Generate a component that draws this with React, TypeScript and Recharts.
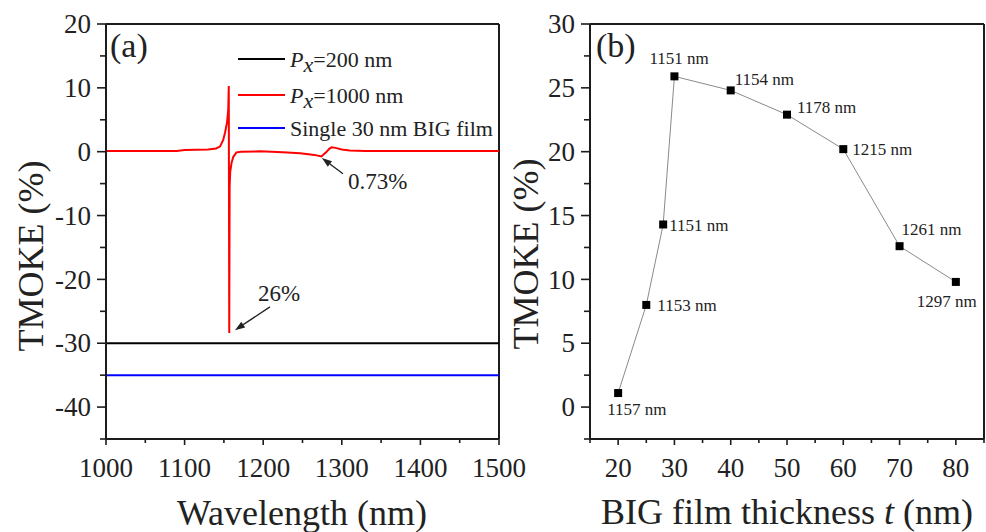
import { LineChart, Line, XAxis, YAxis, ReferenceLine, LabelList, Customized } from 'recharts'

// (a) TMOKE spectrum, Px = 1000 nm
const wavelength = [
    1000, 1050, 1090, 1100, 1130, 1140, 1145, 1149, 1151.5, 1154, 1155.5, 1156.2, 1156.8, 1157.3, 1158,
    1159.7, 1162, 1166, 1172, 1196, 1225, 1247, 1265, 1274, 1280, 1284, 1287, 1292, 1300, 1310, 1330,
    1400, 1500,
]
const tmokePx1000 = [
    0.1, 0.1, 0.12, 0.25, 0.35, 0.5, 0.8, 1.8, 3.0, 4.6, 6.5, 10.3, -28.4, -5.5, -3.2,
    -1.75, -0.8, -0.1, 0.0, 0.05, -0.1, -0.25, -0.5, -0.75, -0.1, 0.45, 0.7, 0.6, 0.35, 0.2, 0.12,
    0.1, 0.1,
]
const flatWavelength = [1000, 1500]
const tmokePx200 = [-30, -30]
const tmokeSingle = [-35, -35]

const waveTicks = [1000, 1050, 1100, 1150, 1200, 1250, 1300, 1350, 1400, 1450, 1500]
const waveMajor = [1000, 1100, 1200, 1300, 1400, 1500]
const tmokeTicksA = [-45, -40, -35, -30, -25, -20, -15, -10, -5, 0, 5, 10, 15, 20]
const tmokeMajorA = [-40, -30, -20, -10, 0, 10, 20]

// (b) peak TMOKE vs BIG thickness
const thickness = [20, 25, 28, 30, 40, 50, 60, 70, 80]
const tmokePeak = [1.1, 8.0, 14.3, 25.9, 24.8, 22.9, 20.2, 12.6, 9.8]
const resonance = [1157, 1153, 1151, 1151, 1154, 1178, 1215, 1261, 1297]

const thickTicks = [15, 20, 25, 30, 35, 40, 45, 50, 55, 60, 65, 70, 75, 80, 85]
const thickMajor = [20, 30, 40, 50, 60, 70, 80]
const tmokeTicksB = [-2.5, 0, 2.5, 5, 7.5, 10, 12.5, 15, 17.5, 20, 22.5, 25, 27.5, 30]
const tmokeMajorB = [0, 5, 10, 15, 20, 25, 30]

const arrowNotes = [
    { text: '26%', tail: [1208.6, -24.3], tip: [1164, -27.95] },
    { text: '0.73%', tail: [1301.5, -3.46], tip: [1274.7, -0.98] },
]
const noteOffsets = [[-12, -6], [5, 15]]

// label offset from each marker: [dx, dy to baseline]
const labelOffsets = [[-11, 22], [11, 6], [6, 7], [-25, -12], [4, -5], [10, -2], [9, 6], [2, -11], [-39, 25]]

const SERIF = "'Liberation Serif', 'Times New Roman', serif"
const AXIS = '#1c1c1c'
const serif = (size: number, extra: any = {}) => ({ fontFamily: SERIF, fontSize: size, ...extra })

const px1000Data = wavelength.map((w, i) => ({ w, v: tmokePx1000[i] }))
const px200Data = flatWavelength.map((w, i) => ({ w, v: tmokePx200[i] }))
const singleData = flatWavelength.map((w, i) => ({ w, v: tmokeSingle[i] }))
const thicknessData = thickness.map((t, i) => ({ t, v: tmokePeak[i], res: `${resonance[i]} nm` }))

function BottomTick(props: any) {
    const { x, y, payload, majors } = props
    const major = majors.includes(payload.value)
    return (
        <g>
            <line x1={x} x2={x} y1={y} y2={y + (major ? 6 : 4)} stroke={AXIS} strokeWidth={1.6} />
            {major && (
                <text x={x} y={y + 38} textAnchor="middle" fill="#222" style={serif(27)}>
                    {payload.value}
                </text>
            )}
        </g>
    )
}

function LeftTick(props: any) {
    const { x, y, payload, majors } = props
    const major = majors.includes(payload.value)
    return (
        <g>
            <line x1={x} x2={x - (major ? 9 : 6)} y1={y} y2={y} stroke={AXIS} strokeWidth={1.6} />
            {major && (
                <text x={x - 15} y={y} dy="0.34em" textAnchor="end" fill="#222" style={serif(27)}>
                    {payload.value}
                </text>
            )}
        </g>
    )
}

function Arrow(props: any, idx: number) {
    const { x1, y1, x2, y2 } = props
    const ang = Math.atan2(y2 - y1, x2 - x1)
    const len = 10
    const half = 3.5
    const bx = x2 - len * Math.cos(ang)
    const by = y2 - len * Math.sin(ang)
    const px = -Math.sin(ang) * half
    const py = Math.cos(ang) * half
    const [dx, dy] = noteOffsets[idx]
    return (
        <g>
            <line x1={x1} y1={y1} x2={bx} y2={by} stroke="#222" strokeWidth={1.3} />
            <polygon points={`${x2},${y2} ${bx + px},${by + py} ${bx - px},${by - py}`} fill="#222" />
            <text x={x1 + dx} y={y1 + dy} fill="#222" style={serif(23)}>
                {arrowNotes[idx].text}
            </text>
        </g>
    )
}

function Square(props: any) {
    const { cx, cy, index } = props
    return <rect key={index} x={cx - 4} y={cy - 4} width={8} height={8} fill="#000" />
}

function ResLabel(props: any) {
    const { x, y, value, index } = props
    const [dx, dy] = labelOffsets[index]
    return (
        <text x={x + dx} y={y + dy} fill="#222" style={serif(17)}>
            {value}
        </text>
    )
}

const legendRows = [
    { color: '#000000', sub: true, text: '=200 nm', cy: 59 },
    { color: '#ff0000', sub: true, text: '=1000 nm', cy: 95 },
    { color: '#0000ff', sub: false, text: 'Single 30 nm BIG film', cy: 128 },
]

function OverlayA() {
    return (
        <g fill="#222" style={{ fontFamily: SERIF }}>
            <text x={110} y={57} style={serif(34)}>(a)</text>
            {legendRows.map((r) => (
                <g key={r.text}>
                    <line x1={238} x2={285} y1={r.cy} y2={r.cy} stroke={r.color} strokeWidth={2} />
                    <text x={290} y={r.cy + 7.5} style={serif(22)}>
                        {r.sub ? (
                            <>
                                <tspan fontStyle="italic">P</tspan>
                                <tspan fontStyle="italic" dy={5}>x</tspan>
                                <tspan dy={-5}>{r.text}</tspan>
                            </>
                        ) : (
                            r.text
                        )}
                    </text>
                </g>
            ))}
            <text x={43} y={256} textAnchor="middle" transform="rotate(-90 43 256)" style={serif(36)}>
                TMOKE (%)
            </text>
            <text x={302} y={525} textAnchor="middle" style={serif(36)}>
                Wavelength (nm)
            </text>
        </g>
    )
}

function OverlayB() {
    return (
        <g fill="#222" style={{ fontFamily: SERIF }}>
            <text x={96} y={57} style={serif(34)}>(b)</text>
            <text x={38} y={254} textAnchor="middle" transform="rotate(-90 38 254)" style={serif(36)}>
                TMOKE (%)
            </text>
            <text x={287} y={524} textAnchor="middle" style={serif(36)}>
                BIG film thickness <tspan fontStyle="italic">t</tspan> (nm)
            </text>
        </g>
    )
}

export default function App() {
    return (
        <div style={{ position: 'absolute', left: 0, top: 0, width: 986, height: 532, background: '#fff', fontFamily: SERIF }}>
            <div style={{ position: 'absolute', left: 0, top: 0 }}>
                <LineChart width={530} height={532} margin={{ top: 24, right: 31, left: 0, bottom: 0 }}>
                    <XAxis
                        dataKey="w"
                        type="number"
                        domain={[1000, 1500]}
                        ticks={waveTicks}
                        interval={0}
                        height={93}
                        tickLine={false}
                        tickSize={0}
                        tickMargin={0}
                        axisLine={{ stroke: AXIS, strokeWidth: 2 }}
                        tick={(p: any) => <BottomTick {...p} majors={waveMajor} />}
                    />
                    <YAxis
                        type="number"
                        domain={[-45, 20]}
                        ticks={tmokeTicksA}
                        interval={0}
                        width={106}
                        tickLine={false}
                        tickSize={0}
                        tickMargin={0}
                        axisLine={{ stroke: AXIS, strokeWidth: 2 }}
                        tick={(p: any) => <LeftTick {...p} majors={tmokeMajorA} />}
                    />
                    <ReferenceLine y={20} stroke={AXIS} strokeWidth={2} />
                    <ReferenceLine x={1500} stroke={AXIS} strokeWidth={2} />
                    <Line data={px200Data} dataKey="v" name="Px=200 nm" stroke="#000000" strokeWidth={2} dot={false} activeDot={false} isAnimationActive={false} />
                    <Line data={singleData} dataKey="v" name="Single 30 nm BIG film" stroke="#0000ff" strokeWidth={2} dot={false} activeDot={false} isAnimationActive={false} />
                    <Line data={px1000Data} dataKey="v" name="Px=1000 nm" type="linear" stroke="#ff0000" strokeWidth={2} dot={false} activeDot={false} isAnimationActive={false} />
                    {arrowNotes.map((n, i) => (
                        <ReferenceLine
                            key={n.text}
                            segment={[{ x: n.tail[0], y: n.tail[1] }, { x: n.tip[0], y: n.tip[1] }]}
                            shape={(p: any) => Arrow(p, i)}
                        />
                    ))}
                    <Customized component={<OverlayA />} />
                </LineChart>
            </div>
            <div style={{ position: 'absolute', left: 500, top: 0 }}>
                <LineChart width={486} height={532} data={thicknessData} margin={{ top: 24, right: 2, left: 0, bottom: 0 }}>
                    <XAxis
                        dataKey="t"
                        type="number"
                        domain={[15, 85]}
                        ticks={thickTicks}
                        interval={0}
                        height={93}
                        tickLine={false}
                        tickSize={0}
                        tickMargin={0}
                        axisLine={{ stroke: AXIS, strokeWidth: 2 }}
                        tick={(p: any) => <BottomTick {...p} majors={thickMajor} />}
                    />
                    <YAxis
                        type="number"
                        domain={[-2.5, 30]}
                        ticks={tmokeTicksB}
                        interval={0}
                        width={90}
                        tickLine={false}
                        tickSize={0}
                        tickMargin={0}
                        axisLine={{ stroke: AXIS, strokeWidth: 2 }}
                        tick={(p: any) => <LeftTick {...p} majors={tmokeMajorB} />}
                    />
                    <ReferenceLine y={30} stroke={AXIS} strokeWidth={2} />
                    <ReferenceLine x={85} stroke={AXIS} strokeWidth={2} />
                    <Line
                        dataKey="v"
                        type="linear"
                        stroke="#8a8a8a"
                        strokeWidth={1}
                        dot={(p: any) => <Square {...p} />}
                        activeDot={false}
                        isAnimationActive={false}
                    >
                        <LabelList dataKey="res" content={(p: any) => <ResLabel {...p} />} />
                    </Line>
                    <Customized component={<OverlayB />} />
                </LineChart>
            </div>
        </div>
    )
}
